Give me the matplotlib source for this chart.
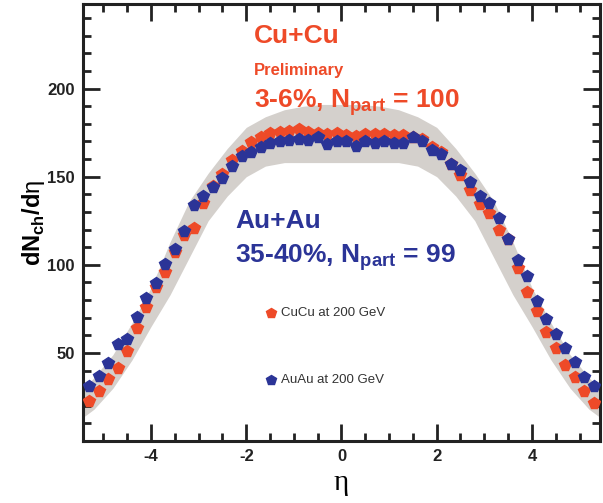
import matplotlib
matplotlib.use("Agg")
import matplotlib.pyplot as plt
from matplotlib.ticker import MultipleLocator

plt.rcParams['font.family'] = ['Liberation Sans', 'DejaVu Sans']
plt.rcParams['mathtext.fontset'] = 'custom'
plt.rcParams['mathtext.rm'] = 'Liberation Sans'
plt.rcParams['mathtext.bf'] = 'Liberation Sans:bold'
plt.rcParams['axes.unicode_minus'] = False

# pseudorapidity bin centres
eta = [-5.3, -5.1, -4.9, -4.7, -4.5, -4.3, -4.1, -3.9, -3.7, -3.5, -3.3, -3.1, -2.9, -2.7,
       -2.5, -2.3, -2.1, -1.9, -1.7, -1.5, -1.3, -1.1, -0.9, -0.7, -0.5, -0.3, -0.1,
       0.1, 0.3, 0.5, 0.7, 0.9, 1.1, 1.3, 1.5, 1.7, 1.9, 2.1, 2.3, 2.5, 2.7, 2.9,
       3.1, 3.3, 3.5, 3.7, 3.9, 4.1, 4.3, 4.5, 4.7, 4.9, 5.1, 5.3]

# CuCu 3-6% (red)
cucu = [22.8, 28.5, 35.0, 41.2, 51.2, 64.2, 76.0, 87.4, 95.9, 107.0, 117.1, 120.9, 135.0, 145.0,
        151.7, 159.6, 164.5, 169.6, 172.8, 174.7, 175.3, 176.2, 177.2, 175.3, 174.7, 174.0, 175.0,
        173.4, 173.0, 174.0, 174.3, 174.0, 173.4, 173.5, 172.5, 171.5, 166.6, 163.9, 157.3, 151.2,
        142.2, 134.6, 129.3, 119.5, 114.8, 98.0, 84.6, 73.5, 61.9, 52.5, 43.1, 36.1, 28.5, 21.7]

# AuAu 35-40% (blue)
auau = [31.2, 36.8, 44.0, 54.8, 57.8, 70.6, 81.0, 89.7, 100.3, 109.2, 119.2, 133.9, 138.8, 144.1,
        149.4, 155.8, 162.0, 163.9, 167.1, 169.0, 170.2, 171.0, 171.5, 171.0, 172.8, 168.3, 170.5,
        170.2, 167.7, 170.2, 169.0, 170.2, 169.0, 169.0, 172.8, 170.2, 165.3, 162.6, 157.0, 153.9,
        147.0, 138.8, 135.0, 126.7, 114.8, 102.5, 93.5, 79.2, 69.5, 60.6, 52.5, 44.9, 36.1, 31.2]

# systematic error band
eta_band = [-5.4, -5.2, -4.8, -4.4, -4.0, -3.6, -3.2, -2.8, -2.4, -2.0, -1.6, -1.2, -0.8, -0.4, 0.0,
            0.4, 0.8, 1.2, 1.6, 2.0, 2.4, 2.8, 3.2, 3.6, 4.0, 4.4, 4.8, 5.2, 5.4]
band_hi = [30, 36, 49, 67, 87, 113, 136, 152, 166, 178, 184, 188, 190, 191, 191,
           191, 190, 188, 184, 178, 166, 152, 136, 113, 87, 67, 49, 36, 30]
band_lo = [14, 18, 30, 46, 65, 83, 104, 125, 139, 150, 156, 158, 158, 158, 158,
           158, 158, 158, 156, 150, 139, 125, 104, 83, 65, 46, 30, 18, 14]

red = '#ee4a28'
blue = '#2b3497'

fig = plt.figure(figsize=(6.03, 5.03), dpi=100)
ax = fig.add_axes([0.1376, 0.1233, 0.8574, 0.8687])

ax.fill_between(eta_band, band_lo, band_hi, color='#d4d0cc', lw=0, zorder=1)
ax.plot(eta, cucu, 'p', color=red, ms=8.5, mec=red, zorder=3)
ax.plot(eta, auau, 'p', color=blue, ms=8.5, mec=blue, zorder=4)

ax.set_xlim(-5.43, 5.43)
ax.set_ylim(0, 248)
ax.xaxis.set_major_locator(MultipleLocator(2))
ax.xaxis.set_minor_locator(MultipleLocator(0.5))
ax.yaxis.set_major_locator(MultipleLocator(50))
ax.yaxis.set_minor_locator(MultipleLocator(10))
ax.set_yticks([50, 100, 150, 200])
ax.tick_params(which='both', direction='in', top=True, right=True, width=2, colors='#222222')
ax.tick_params(which='major', length=12, labelsize=12, pad=6)
ax.tick_params(which='minor', length=6)
for lab in ax.get_xticklabels() + ax.get_yticklabels():
    lab.set_fontweight('bold')
for s in ax.spines.values():
    s.set_linewidth(2.2)
    s.set_color('#222222')

ax.set_xlabel('η', family='Liberation Serif', fontsize=21, labelpad=4)
ax.set_ylabel(r'$\mathbf{dN}_{\mathbf{ch}}\mathbf{/d}\mathrm{η}$', fontsize=17, labelpad=0)

# annotations
ax.text(-1.83, 226, 'Cu+Cu', color=red, fontsize=19, fontweight='bold')
ax.text(-1.83, 208, 'Preliminary', color=red, fontsize=12, fontweight='bold')
ax.text(-1.83, 189, r'3-6%, N$_{\mathbf{part}}$ = 100', color=red, fontsize=19, fontweight='bold')
ax.text(-2.23, 120.7, 'Au+Au', color=blue, fontsize=19, fontweight='bold')
ax.text(-2.23, 101.4, r'35-40%, N$_{\mathbf{part}}$ = 99', color=blue, fontsize=19, fontweight='bold')

# legend
ax.plot([-1.47], [72.5], 'p', color=red, ms=7)
ax.text(-1.28, 72.5, 'CuCu at 200 GeV', color='#333333', fontsize=9.5, va='center')
ax.plot([-1.47], [34.6], 'p', color=blue, ms=7)
ax.text(-1.28, 34.6, 'AuAu at 200 GeV', color='#333333', fontsize=9.5, va='center')

fig.savefig('out.png', dpi=100)
